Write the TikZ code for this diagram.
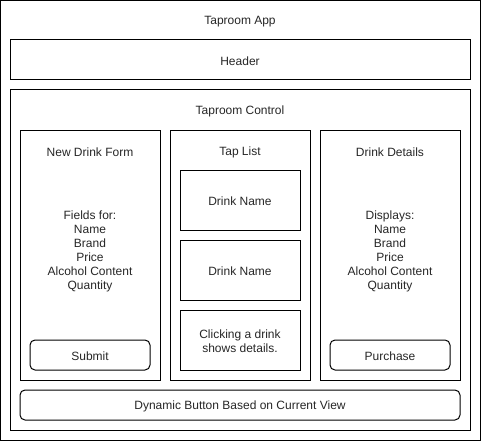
\documentclass[tikz,border=0pt]{standalone}
\usepackage{fontspec}
\setmainfont{Liberation Sans}
\begin{document}
\begin{tikzpicture}[x=1pt,y=-1pt,
  box/.style={draw=black,line width=1pt},
  rbox/.style={draw=black,line width=1pt,rounded corners=5pt},
  lbl/.style={font=\fontsize{12}{14}\selectfont,align=center,inner sep=0pt,text=black!85,yshift=-1.5pt}]
\useasboundingbox (0,0) rectangle (481,441);
\draw[box] (0.5,0.5) rectangle (480,440);
\node[lbl] (app) at (240,20) {Taproom App};
\draw[box] (10,40) rectangle (470,80);
\node[lbl] (header) at (240,60) {Header};
\draw[box] (10,90) rectangle (470,430);
\node[lbl] (ctrl) at (240,110) {Taproom Control};
% columns
\draw[box] (20,130) rectangle (160,380);
\node[lbl] (ndf) at (90,151) {New Drink Form};
\node[lbl] (fields) at (90,250) {Fields for:\\Name\\Brand\\Price\\Alcohol Content\\Quantity};
\draw[rbox] (30,340) rectangle (150,370);
\node[lbl] (submit) at (90,355) {Submit};
\draw[box] (170,130) rectangle (310,380);
\node[lbl] (tap) at (240,151) {Tap List};
\draw[box] (180,170) rectangle (300,230);
\node[lbl] (d1) at (240,200) {Drink Name};
\draw[box] (180,240) rectangle (300,300);
\node[lbl] (d2) at (240,270) {Drink Name};
\draw[box] (180,310) rectangle (300,370);
\node[lbl] (click) at (240,340) {Clicking a drink\\shows details.};
\draw[box] (320,130) rectangle (460,380);
\node[lbl] (dd) at (390,151) {Drink Details};
\node[lbl] (disp) at (390,250) {Displays:\\Name\\Brand\\Price\\Alcohol Content\\Quantity};
\draw[rbox] (330,340) rectangle (450,370);
\node[lbl] (purchase) at (390,355) {Purchase};
\draw[rbox] (20,390) rectangle (460,420);
\node[lbl] (dyn) at (240,405) {Dynamic Button Based on Current View};
\end{tikzpicture}
\end{document}
